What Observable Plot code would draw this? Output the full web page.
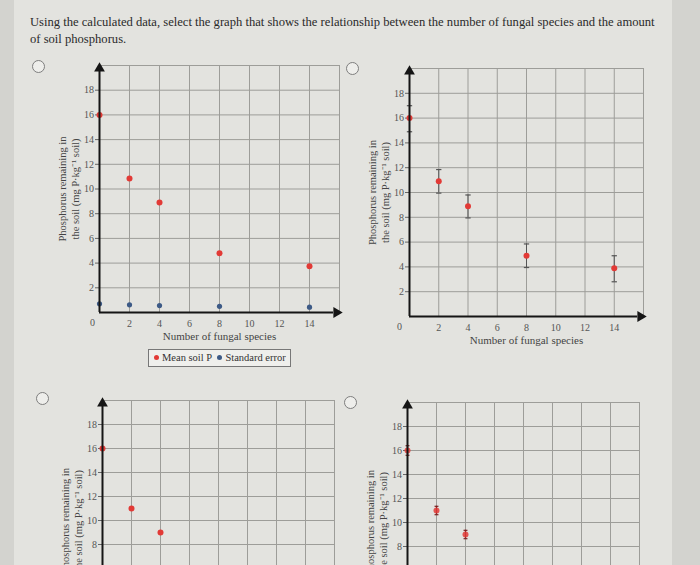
<!DOCTYPE html>
<html><head><meta charset="utf-8">
<script src="https://cdn.jsdelivr.net/npm/d3@7"></script>
<script src="https://cdn.jsdelivr.net/npm/@observablehq/plot@0.6"></script>
<style>
html,body{margin:0;padding:0;width:700px;height:565px;overflow:hidden;background:#d3d3cf;position:relative;}
#panel{position:absolute;left:14px;top:0;width:658px;height:565px;background:#e3e3df;}
.q{position:absolute;left:30px;top:14px;font:12.6px "Liberation Serif",serif;color:#2a2a2a;line-height:17px;width:628px}
.radio{position:absolute;width:11px;height:11px;border:1.4px solid #7e7e7e;border-radius:50%;background:#eeeeeb}
.chart{position:absolute}
.legend{position:absolute;left:148px;top:349px;width:143px;height:18px;border:1px solid #777;background:#efefec;font:10.5px "Liberation Serif",serif;color:#333;line-height:16px;box-sizing:border-box;padding-left:5px;white-space:nowrap}
.legend span.d{display:inline-block;width:5px;height:5px;border-radius:50%;margin-right:3px;vertical-align:1px}
</style>
</head><body>
<div id="panel"></div>
<div class="q">Using the calculated data, select the graph that shows the relationship between the number of fungal species and the amount of soil phosphorus.</div>
<div id="root"></div>
<script>
const species = [0, 2, 4, 8, 14];
const meanP1 = [16, 10.85, 8.9, 4.8, 3.75];
const seDots1 = [0.7, 0.62, 0.56, 0.5, 0.43];
const meanP2 = [16, 10.9, 8.9, 4.9, 3.9];
const seLo2 = [14.9, 9.95, 7.95, 3.95, 2.8];
const seHi2 = [17.0, 11.85, 9.8, 5.85, 4.9];
const meanP3 = [16, 11, 9, 5, 4];
const meanP4 = [16, 11, 9, 5, 4];
const seHalf4 = [0.4, 0.35, 0.35, 0.35, 0.35];
const xTicks = [2, 4, 6, 8, 10, 12, 14];
const yTicks = [2, 4, 6, 8, 10, 12, 14, 16, 18];
const yTicksVisibleLower = [8, 10, 12, 14, 16, 18];
const gridX = [2, 4, 6, 8, 10, 12, 14, 16];
const gridY = [2, 4, 6, 8, 10, 12, 14, 16, 18, 20];
const xDomain = [0, 16];
const yDomain = [0, 20];
const xLabel = "Number of fungal species";
const yLabel = "Phosphorus remaining in\nthe soil (mg P·kg⁻¹ soil)";
const legendLabels = ["Mean soil P", "Standard error"];
const red = "#e23a36", blue = "#3d5a86";

const cap = {draw(ctx, size) { const w = Math.sqrt(size) / 2; ctx.moveTo(-w, 0); ctx.lineTo(w, 0); }};

const rows = (ys, extra = {}) => species.map((x, i) => ({x, y: ys[i], ...Object.fromEntries(Object.entries(extra).map(([k, v]) => [k, v[i]]))}));

function chart({ox, oy, w, h, marks, zero, cropped = false}) {
  const mL = 60, mR = 12, mT = 12, mB = 45;
  const ends = [{x: xDomain[0], y: yDomain[0]}];
  const bottomTexts = cropped ? [] : [
    Plot.axisX(xTicks, {tickSize: 0, tickPadding: 7, label: null, fill: "#555"}),
    Plot.text(ends, {x: "x", y: "y", text: () => "0", dx: zero[0], dy: zero[1], fill: "#555"}),
    Plot.text([xLabel], {frameAnchor: "bottom", dy: 27, fontSize: 11, fill: "#444"})
  ];
  const p = Plot.plot({
    width: mL + w + mR, height: mT + h + mB,
    marginLeft: mL, marginRight: mR, marginTop: mT, marginBottom: mB,
    x: {domain: xDomain, axis: null}, y: {domain: yDomain, axis: null},
    style: {fontFamily: "Liberation Serif, serif", fontSize: "10px", color: "#555", background: "transparent", overflow: "visible"},
    marks: [
      Plot.ruleX(gridX, {stroke: "#9d9d99", strokeWidth: 1}),
      Plot.ruleY(gridY, {stroke: "#9d9d99", strokeWidth: 1}),
      Plot.axisY(cropped ? yTicksVisibleLower : yTicks, {tickSize: 4, tickPadding: 1.5, label: null, stroke: "#666", fill: "#555"}),
      ...bottomTexts,
      Plot.text([yLabel], {frameAnchor: "left", textAnchor: "middle", rotate: -90, dx: -31, fontSize: 10.5, lineHeight: 1.2, fill: "#444"}),
      ...marks,
      Plot.ruleX([xDomain[0]], {y1: yDomain[0], y2: yDomain[1] - 0.4, stroke: "#151515", strokeWidth: 2}),
      Plot.ruleY([yDomain[0]], {x1: xDomain[0], x2: xDomain[1] - 0.4, stroke: "#151515", strokeWidth: 2}),
      Plot.dot([{x: xDomain[0], y: yDomain[1]}], {x: "x", y: "y", symbol: "triangle", r: 4, fill: "#151515", dy: 3}),
      Plot.dot([{x: xDomain[1], y: yDomain[0]}], {x: "x", y: "y", symbol: "triangle", r: 4, fill: "#151515", rotate: 90, dx: -3})
    ]
  });
  p.classList.add("chart");
  p.style.left = (ox - mL) + "px";
  p.style.top = (oy - h - mT) + "px";
  document.getElementById("root").appendChild(p);
}

// Chart 1: mean and standard error as separate points
chart({ox: 99, oy: 312, w: 240, h: 247, zero: [-7, 10], marks: [
  Plot.dot(rows(seDots1), {x: "x", y: "y", r: 2.6, fill: blue}),
  Plot.dot(rows(meanP1), {x: "x", y: "y", r: 3, fill: red})
]});
// Chart 2: mean with error bars
const d2 = rows(meanP2, {lo: seLo2, hi: seHi2});
chart({ox: 409, oy: 316, w: 234, h: 248, zero: [-10, 10], marks: [
  Plot.ruleX(d2, {x: "x", y1: "lo", y2: "hi", stroke: "#555", strokeWidth: 1}),
  Plot.dot(d2, {x: "x", y: "lo", symbol: cap, r: 3, stroke: "#555", strokeWidth: 1.2}),
  Plot.dot(d2, {x: "x", y: "hi", symbol: cap, r: 3, stroke: "#555", strokeWidth: 1.2}),
  Plot.dot(d2, {x: "x", y: "y", r: 3, fill: red})
]});
// Chart 3: means only (lower part falls below the window)
chart({ox: 102, oy: 640, w: 232, h: 240, zero: [-7, 10], cropped: true, marks: [
  Plot.dot(rows(meanP3), {x: "x", y: "y", r: 3, fill: red})
]});
// Chart 4: means with small error bars
const d4 = rows(meanP4, {s: seHalf4}).map(d => ({...d, lo: d.y - d.s, hi: d.y + d.s}));
chart({ox: 407, oy: 642, w: 232, h: 240, zero: [-10, 10], cropped: true, marks: [
  Plot.ruleX(d4, {x: "x", y1: "lo", y2: "hi", stroke: "#7a2020", strokeWidth: 1.2}),
  Plot.dot(d4, {x: "x", y: "lo", symbol: cap, r: 2.2, stroke: "#7a2020", strokeWidth: 1.2}),
  Plot.dot(d4, {x: "x", y: "hi", symbol: cap, r: 2.2, stroke: "#7a2020", strokeWidth: 1.2}),
  Plot.dot(d4, {x: "x", y: "y", r: 3, fill: red, fillOpacity: 0.85})
]});

// radio buttons
[[32, 60], [346, 62], [36, 392], [344, 396]].forEach(([l, t]) => {
  const r = document.createElement("div"); r.className = "radio";
  r.style.left = l + "px"; r.style.top = t + "px"; document.body.appendChild(r);
});
// legend under chart 1
const lg = document.createElement("div"); lg.className = "legend";
lg.innerHTML = `<span class="d" style="background:${red}"></span>${legendLabels[0]}&nbsp;&nbsp;<span class="d" style="background:${blue}"></span>${legendLabels[1]}`;
document.body.appendChild(lg);
</script>
</body></html>
